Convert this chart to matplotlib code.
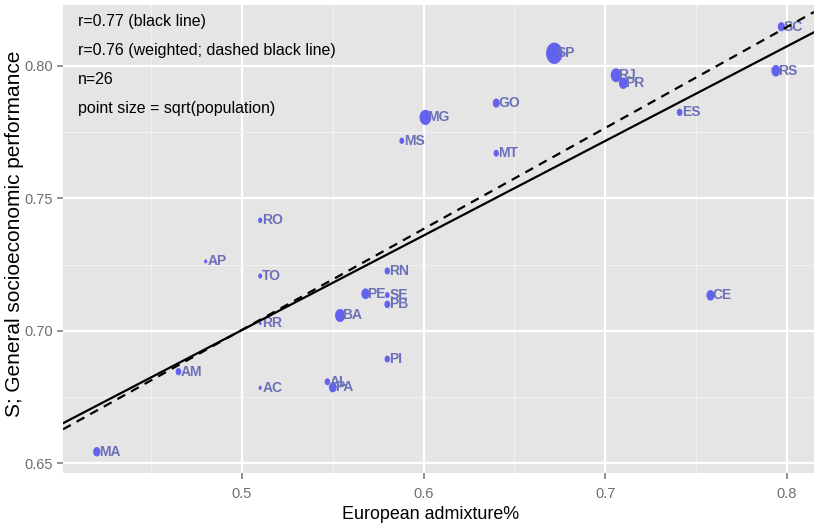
import numpy as np
import matplotlib
matplotlib.use("Agg")
import matplotlib.pyplot as plt
from matplotlib.path import Path

plt.rcParams["font.family"] = ["Liberation Sans", "DejaVu Sans"]

# Brazilian states: European admixture vs general socioeconomic performance
estados = ["SC", "SP", "RJ", "PR", "RS", "GO", "MG", "MS", "MT", "ES",
           "RO", "AP", "TO", "RN", "PE", "SE", "PB", "BA", "RR", "PI",
           "AM", "AC", "AL", "PA", "MA", "CE"]
admixture = [0.797, 0.672, 0.706, 0.710, 0.794, 0.640, 0.601, 0.588, 0.640, 0.741,
             0.510, 0.480, 0.510, 0.580, 0.568, 0.580, 0.580, 0.554, 0.510, 0.580,
             0.465, 0.510, 0.547, 0.550, 0.420, 0.758]
s_score = [0.8147, 0.8047, 0.7964, 0.7934, 0.7981, 0.7859, 0.7805, 0.7717, 0.7670, 0.7824,
           0.7417, 0.7262, 0.7207, 0.7226, 0.7140, 0.7135, 0.7100, 0.7058, 0.7028, 0.6894,
           0.6846, 0.6785, 0.6808, 0.6787, 0.6544, 0.7134]
# populacao em milhoes
populacao = [6.2, 41.3, 16.0, 10.4, 10.7, 6.0, 19.6, 2.4, 3.0, 3.5,
             1.6, 0.67, 1.4, 3.2, 8.8, 2.1, 3.8, 14.0, 0.45, 3.1,
             3.5, 0.73, 3.1, 7.6, 6.6, 8.5]

x = np.array(admixture)
y = np.array(s_score)
pop = np.array(populacao)

fig = plt.figure(figsize=(8.14, 5.26), dpi=100)
ax = fig.add_axes([0.0774, 0.1013, 0.9226, 0.8892])
ax.set_facecolor("#E5E5E5")
for s in ax.spines.values():
    s.set_visible(False)

xlim = (0.4014, 0.815)
ylim = (0.6465, 0.8229)
ax.set_xlim(xlim)
ax.set_ylim(ylim)

ax.set_xticks([0.5, 0.6, 0.7, 0.8])
ax.set_xticklabels(["0.5", "0.6", "0.7", "0.8"])
ax.set_yticks([0.65, 0.70, 0.75, 0.80])
ax.set_yticklabels(["0.65", "0.70", "0.75", "0.80"])
ax.set_xticks([0.45, 0.55, 0.65, 0.75], minor=True)
ax.set_yticks([0.675, 0.725, 0.775], minor=True)
ax.grid(which="major", color="white", linewidth=1.6)
ax.grid(which="minor", color="#F2F2F2", linewidth=0.8)
ax.set_axisbelow(True)
ax.tick_params(which="major", length=4.5, width=1.2, color="#7F7F7F",
               labelsize=10.5, labelcolor="#6E6E6E")
ax.tick_params(axis="x", which="major", pad=6)
ax.tick_params(axis="y", which="major", pad=2.5)
ax.tick_params(which="minor", length=0)

# marcador elipse (a imagem final fica mais alta que larga)
t = np.linspace(0, 2 * np.pi, 60)
elipse = Path(np.column_stack([0.77 * np.cos(t), np.sin(t)]), closed=True)

# tamanho do ponto ~ sqrt(populacao)
diam_px = 1.5 + 3.1 * np.sqrt(pop)
area = (diam_px * 0.72) ** 2
ax.scatter(x, y, s=area, marker=elipse, color="#5454F0", alpha=0.9,
           linewidths=0, zorder=3)

for nome, xi, yi in zip(estados, x, y):
    ax.annotate(nome, (xi, yi), xytext=(1.5, 0), textcoords="offset points",
                ha="left", va="center", fontsize=10, fontweight="bold",
                color="#6C70B8", zorder=4)

# regressao simples e ponderada (peso = sqrt(populacao))
xs = np.array(xlim)
b1, a1 = np.polyfit(x, y, 1)
b2, a2 = np.polyfit(x, y, 1, w=pop ** 0.25)
ax.plot(xs, a1 + b1 * xs, color="black", linewidth=1.6, zorder=5)
ax.plot(xs, a2 + b2 * xs, color="black", linewidth=1.6, linestyle=(0, (4, 3)), zorder=5)

texto = ["r=0.77 (black line)", "r=0.76 (weighted; dashed black line)",
         "n=26", "point size = sqrt(population)"]
for i, linha in enumerate(texto):
    ax.text(0.02, 0.9637 - i * 0.0614, linha, transform=ax.transAxes,
            ha="left", va="center", fontsize=11.5, color="black", zorder=6)

ax.set_xlabel("European admixture%", fontsize=12.9, va="center")
ax.xaxis.set_label_coords(0.49, -0.0904)
ax.set_ylabel("S; General socioeconomic performance", fontsize=15, va="center")
ax.yaxis.set_label_coords(-0.064, 0.51)

fig.savefig("out.png", dpi=100)
